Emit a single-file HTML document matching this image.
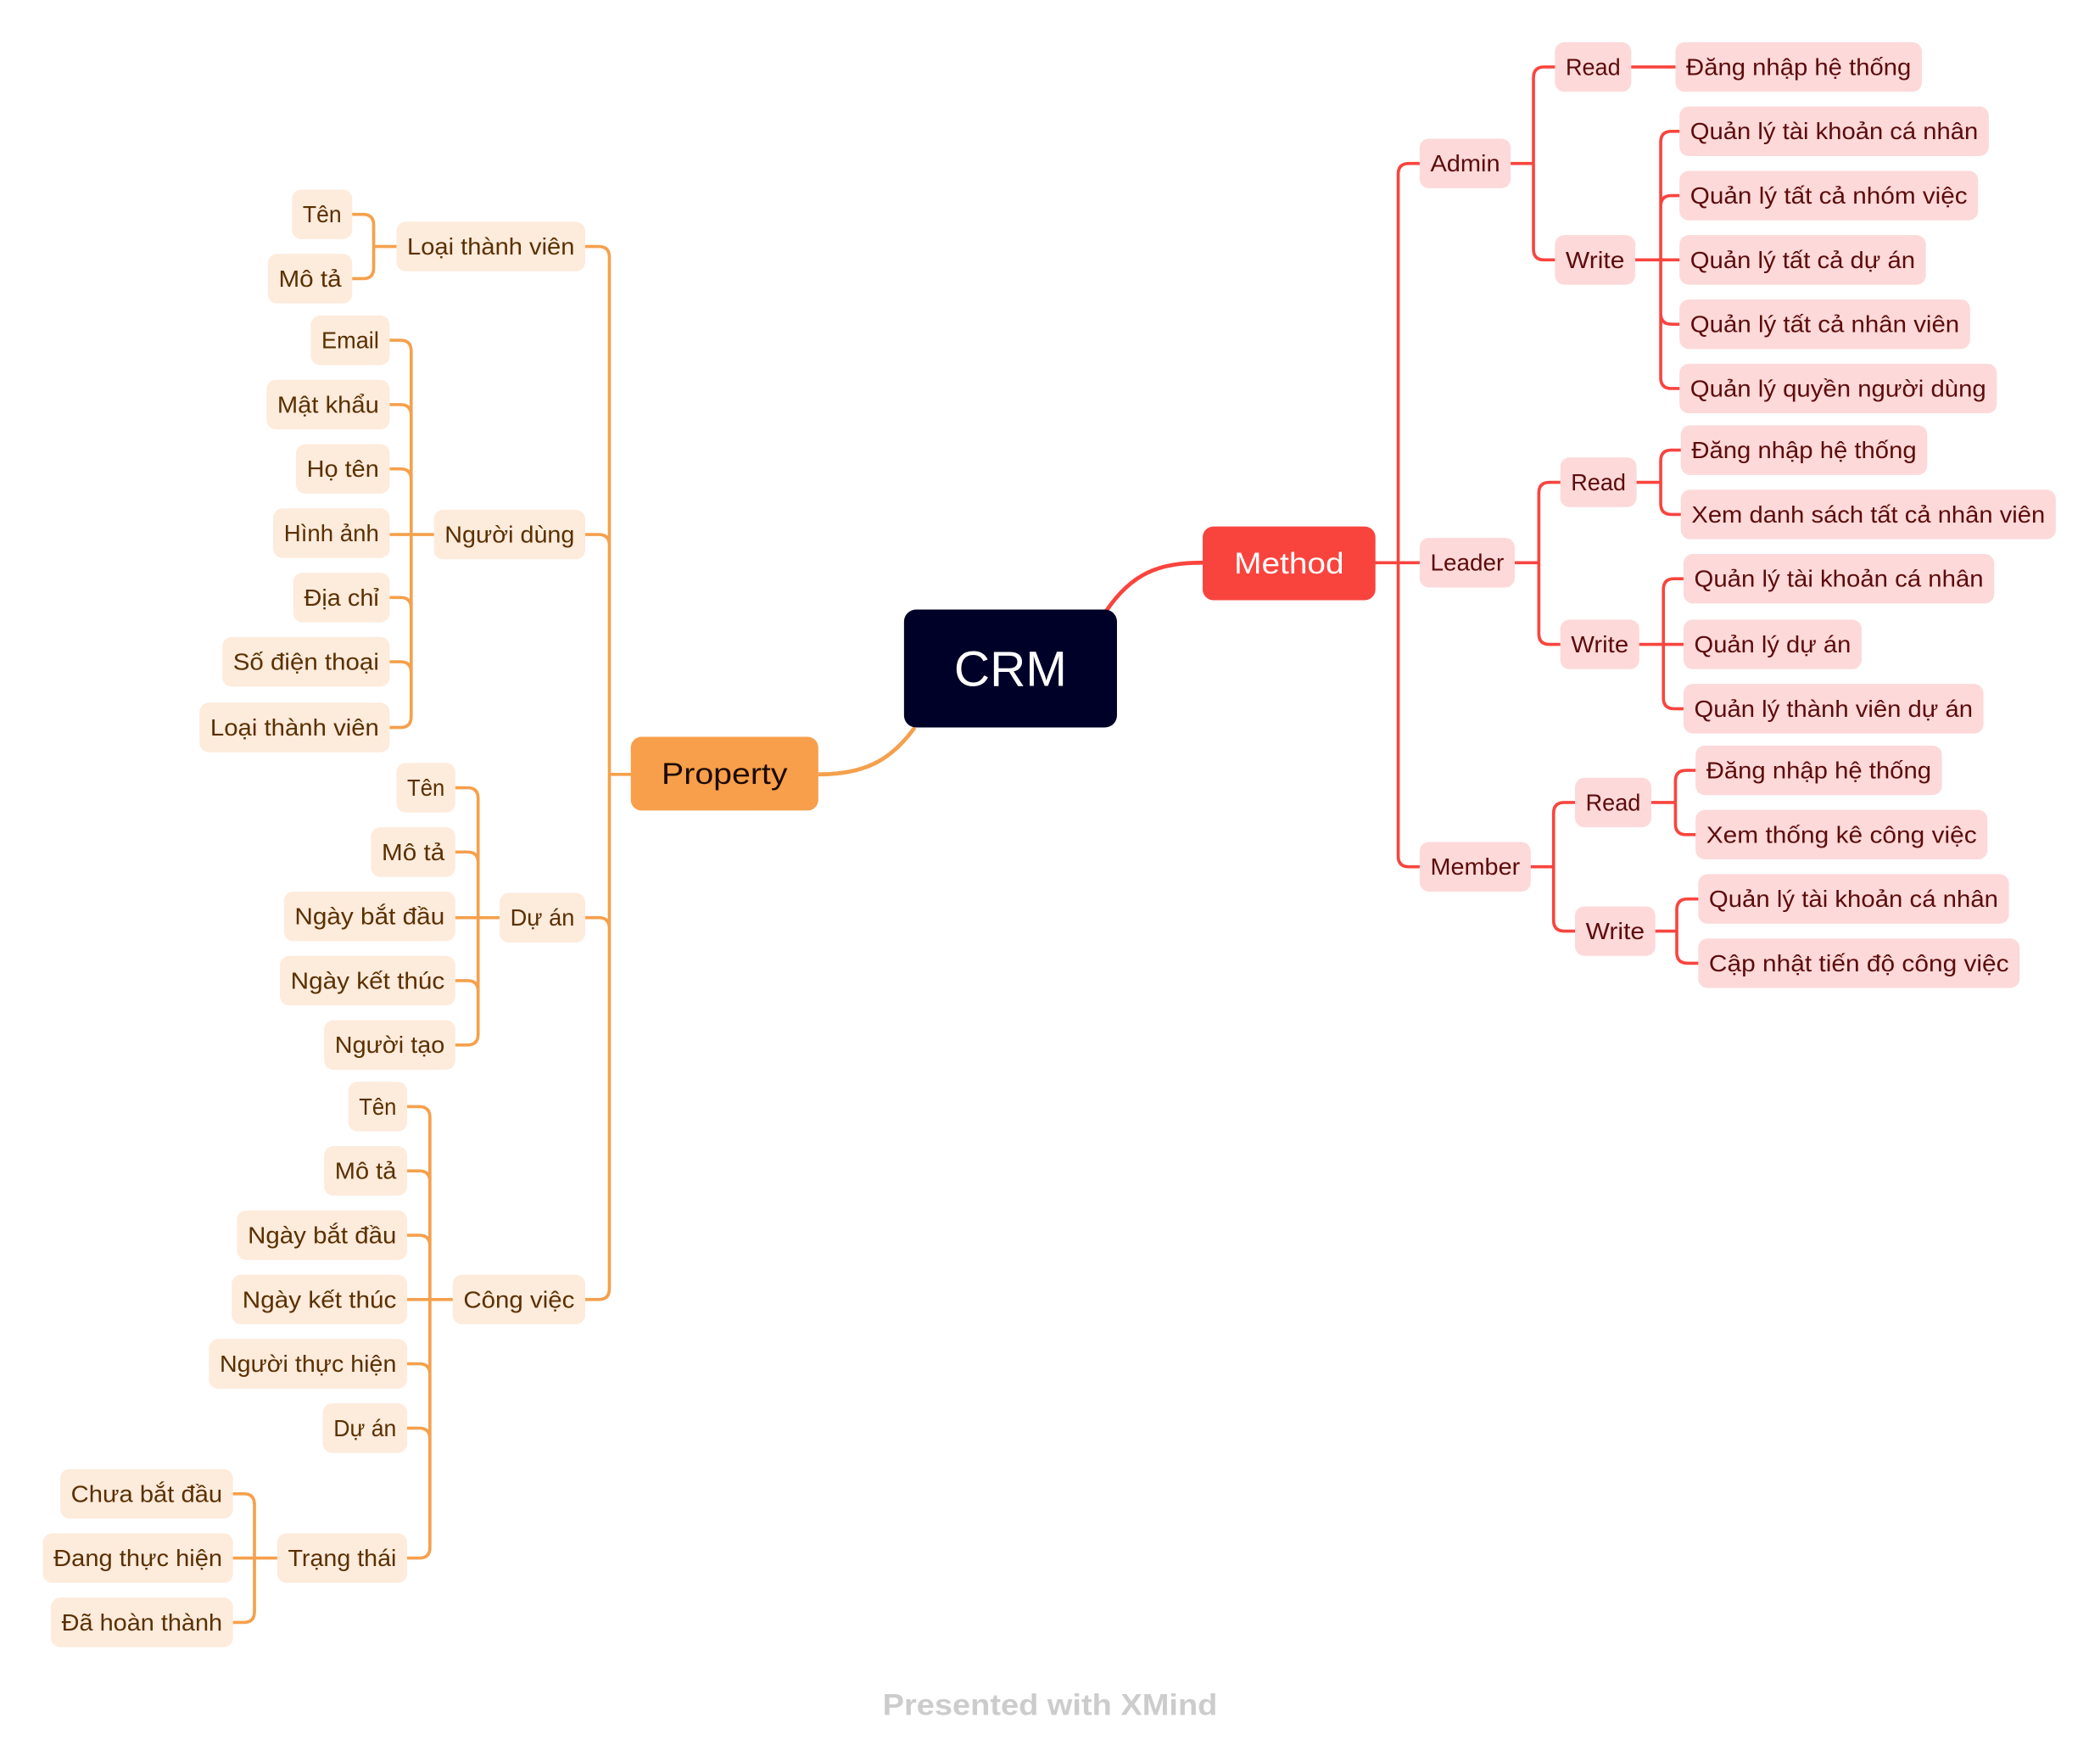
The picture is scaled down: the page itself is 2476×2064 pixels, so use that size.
<!DOCTYPE html>
<html><head><meta charset="utf-8"><style>
html,body{margin:0;padding:0;background:#fff;}
svg{display:block;}
text{font-family:"Liberation Sans",sans-serif;}
.r rect{fill:#fdd9d9;} .r text{fill:#5c0b0b;font-size:17.5px;}
.o rect{fill:#fdebdc;} .o text{fill:#5a3000;font-size:17.5px;}
.lr{stroke:#f9443e;stroke-width:2.3;fill:none;stroke-linecap:round;}
.lo{stroke:#f5a04c;stroke-width:2.3;fill:none;stroke-linecap:round;}
</style></head><body>
<svg width="2476" height="2064" viewBox="0 0 1568 1307" preserveAspectRatio="none" xmlns="http://www.w3.org/2000/svg">
<path d="M826,456 C845,428 865,420 898,420" stroke="#f9443e" stroke-width="3" fill="none"/>
<path d="M683,543 C665,568 645,578 611,578" stroke="#f5a04c" stroke-width="3" fill="none"/>
<g class="lr">
<path d="M1027,420 H1060 M1060,122 H1052 Q1044,122 1044,130 V639 Q1044,647 1052,647 H1060"/>
<path d="M1128,122 H1145 M1161,50 H1153 Q1145,50 1145,58 V186 Q1145,194 1153,194 H1161"/>
<path d="M1218,50 H1251"/>
<path d="M1221,194 H1254 M1254,98 H1248 Q1240,98 1240,106 V282 Q1240,290 1248,290 H1254 M1254,146 H1248 Q1240,146 1240,154 M1254,242 H1248 Q1240,242 1240,234"/>
<path d="M1131,420 H1149 M1165,360 H1157 Q1149,360 1149,368 V473 Q1149,481 1157,481 H1165"/>
<path d="M1222,360 H1240 M1255,336 H1248 Q1240,336 1240,344 V376 Q1240,384 1248,384 H1255"/>
<path d="M1224,481 H1257 M1257,432 H1250 Q1242,432 1242,440 V521 Q1242,529 1250,529 H1257"/>
<path d="M1143,647 H1160 M1176,599 H1168 Q1160,599 1160,607 V687 Q1160,695 1168,695 H1176"/>
<path d="M1233,599 H1251 M1266,575 H1259 Q1251,575 1251,583 V615 Q1251,623 1259,623 H1266"/>
<path d="M1236,695 H1252 M1268,671 H1260 Q1252,671 1252,679 V711 Q1252,719 1260,719 H1268"/>
</g>
<g class="lo">
<path d="M471,578 H455 M437,184 H447 Q455,184 455,192 V962 Q455,970 447,970 H437 M437,399 H447 Q455,399 455,407 M437,685 H447 Q455,685 455,693"/>
<path d="M296,184 H279 M263,160 H271 Q279,160 279,168 V200 Q279,208 271,208 H263"/>
<path d="M324,399 H291 M291,254 H299 Q307,254 307,262 V535 Q307,543 299,543 H291 M291,302 H299 Q307,302 307,310 M291,350 H299 Q307,350 307,358 M291,446 H299 Q307,446 307,454 M291,494 H299 Q307,494 307,502"/>
<path d="M373,685 H340 M340,588 H349 Q357,588 357,596 V772 Q357,780 349,780 H340 M340,636 H349 Q357,636 357,644 M340,732 H349 Q357,732 357,740"/>
<path d="M338,970 H304 M304,826 H313 Q321,826 321,834 V1155 Q321,1163 313,1163 H304 M304,874 H313 Q321,874 321,882 M304,922 H313 Q321,922 321,930 M304,1018 H313 Q321,1018 321,1026 M304,1066 H313 Q321,1066 321,1074"/>
<path d="M207,1163 H174 M174,1115 H182 Q190,1115 190,1123 V1203 Q190,1211 182,1211 H174"/>
</g>
<rect x="675" y="455" width="159" height="88" rx="9" fill="#000128"/>
<text x="754.5" y="512" text-anchor="middle" fill="#fff" font-size="37">CRM</text>
<rect x="898" y="393" width="129" height="55" rx="8" fill="#f9443e"/>
<text x="962.5" y="428" text-anchor="middle" fill="#fff" font-size="22" textLength="82" lengthAdjust="spacingAndGlyphs">Method</text>
<rect x="471" y="550" width="140" height="55" rx="8" fill="#f79f4a"/>
<text x="541" y="585" text-anchor="middle" fill="#1a0800" font-size="22" textLength="94" lengthAdjust="spacingAndGlyphs">Property</text>
<g class="r">
<rect x="1060" y="103.5" width="68" height="37" rx="7"/><text x="1094" y="128" text-anchor="middle" textLength="52" lengthAdjust="spacingAndGlyphs">Admin</text>
<rect x="1060" y="401.5" width="71" height="37" rx="7"/><text x="1095.5" y="426" text-anchor="middle" textLength="55" lengthAdjust="spacingAndGlyphs">Leader</text>
<rect x="1060" y="628.5" width="83" height="37" rx="7"/><text x="1101.5" y="653" text-anchor="middle" textLength="67" lengthAdjust="spacingAndGlyphs">Member</text>
<rect x="1161" y="31.5" width="57" height="37" rx="7"/><text x="1189.5" y="56" text-anchor="middle" textLength="41" lengthAdjust="spacingAndGlyphs">Read</text>
<rect x="1161" y="175.5" width="60" height="37" rx="7"/><text x="1191" y="200" text-anchor="middle" textLength="44" lengthAdjust="spacingAndGlyphs">Write</text>
<rect x="1251" y="31.5" width="184" height="37" rx="7"/><text x="1343" y="56" text-anchor="middle" textLength="168" lengthAdjust="spacingAndGlyphs">Đăng nhập hệ thống</text>
<rect x="1254" y="79.5" width="231" height="37" rx="7"/><text x="1369.5" y="104" text-anchor="middle" textLength="215" lengthAdjust="spacingAndGlyphs">Quản lý tài khoản cá nhân</text>
<rect x="1254" y="127.5" width="223" height="37" rx="7"/><text x="1365.5" y="152" text-anchor="middle" textLength="207" lengthAdjust="spacingAndGlyphs">Quản lý tất cả nhóm việc</text>
<rect x="1254" y="175.5" width="184" height="37" rx="7"/><text x="1346" y="200" text-anchor="middle" textLength="168" lengthAdjust="spacingAndGlyphs">Quản lý tất cả dự án</text>
<rect x="1254" y="223.5" width="217" height="37" rx="7"/><text x="1362.5" y="248" text-anchor="middle" textLength="201" lengthAdjust="spacingAndGlyphs">Quản lý tất cả nhân viên</text>
<rect x="1254" y="271.5" width="237" height="37" rx="7"/><text x="1372.5" y="296" text-anchor="middle" textLength="221" lengthAdjust="spacingAndGlyphs">Quản lý quyền người dùng</text>
<rect x="1165" y="341.5" width="57" height="37" rx="7"/><text x="1193.5" y="366" text-anchor="middle" textLength="41" lengthAdjust="spacingAndGlyphs">Read</text>
<rect x="1165" y="462.5" width="59" height="37" rx="7"/><text x="1194.5" y="487" text-anchor="middle" textLength="43" lengthAdjust="spacingAndGlyphs">Write</text>
<rect x="1255" y="317.5" width="184" height="37" rx="7"/><text x="1347" y="342" text-anchor="middle" textLength="168" lengthAdjust="spacingAndGlyphs">Đăng nhập hệ thống</text>
<rect x="1255" y="365.5" width="280" height="37" rx="7"/><text x="1395" y="390" text-anchor="middle" textLength="264" lengthAdjust="spacingAndGlyphs">Xem danh sách tất cả nhân viên</text>
<rect x="1257" y="413.5" width="232" height="37" rx="7"/><text x="1373" y="438" text-anchor="middle" textLength="216" lengthAdjust="spacingAndGlyphs">Quản lý tài khoản cá nhân</text>
<rect x="1257" y="462.5" width="133" height="37" rx="7"/><text x="1323.5" y="487" text-anchor="middle" textLength="117" lengthAdjust="spacingAndGlyphs">Quản lý dự án</text>
<rect x="1257" y="510.5" width="224" height="37" rx="7"/><text x="1369" y="535" text-anchor="middle" textLength="208" lengthAdjust="spacingAndGlyphs">Quản lý thành viên dự án</text>
<rect x="1176" y="580.5" width="57" height="37" rx="7"/><text x="1204.5" y="605" text-anchor="middle" textLength="41" lengthAdjust="spacingAndGlyphs">Read</text>
<rect x="1176" y="676.5" width="60" height="37" rx="7"/><text x="1206" y="701" text-anchor="middle" textLength="44" lengthAdjust="spacingAndGlyphs">Write</text>
<rect x="1266" y="556.5" width="184" height="37" rx="7"/><text x="1358" y="581" text-anchor="middle" textLength="168" lengthAdjust="spacingAndGlyphs">Đăng nhập hệ thống</text>
<rect x="1266" y="604.5" width="218" height="37" rx="7"/><text x="1375" y="629" text-anchor="middle" textLength="202" lengthAdjust="spacingAndGlyphs">Xem thống kê công việc</text>
<rect x="1268" y="652.5" width="232" height="37" rx="7"/><text x="1384" y="677" text-anchor="middle" textLength="216" lengthAdjust="spacingAndGlyphs">Quản lý tài khoản cá nhân</text>
<rect x="1268" y="700.5" width="240" height="37" rx="7"/><text x="1388" y="725" text-anchor="middle" textLength="224" lengthAdjust="spacingAndGlyphs">Cập nhật tiến độ công việc</text>
</g>
<g class="o">
<rect x="296" y="165.5" width="141" height="37" rx="7"/><text x="366.5" y="190" text-anchor="middle" textLength="125" lengthAdjust="spacingAndGlyphs">Loại thành viên</text>
<rect x="324" y="380.5" width="113" height="37" rx="7"/><text x="380.5" y="405" text-anchor="middle" textLength="97" lengthAdjust="spacingAndGlyphs">Người dùng</text>
<rect x="373" y="666.5" width="64" height="37" rx="7"/><text x="405" y="691" text-anchor="middle" textLength="48" lengthAdjust="spacingAndGlyphs">Dự án</text>
<rect x="338" y="951.5" width="99" height="37" rx="7"/><text x="387.5" y="976" text-anchor="middle" textLength="83" lengthAdjust="spacingAndGlyphs">Công việc</text>
<rect x="218" y="141.5" width="45" height="37" rx="7"/><text x="240.5" y="166" text-anchor="middle" textLength="29" lengthAdjust="spacingAndGlyphs">Tên</text>
<rect x="200" y="189.5" width="63" height="37" rx="7"/><text x="231.5" y="214" text-anchor="middle" textLength="47" lengthAdjust="spacingAndGlyphs">Mô tả</text>
<rect x="232" y="235.5" width="59" height="37" rx="7"/><text x="261.5" y="260" text-anchor="middle" textLength="43" lengthAdjust="spacingAndGlyphs">Email</text>
<rect x="199" y="283.5" width="92" height="37" rx="7"/><text x="245" y="308" text-anchor="middle" textLength="76" lengthAdjust="spacingAndGlyphs">Mật khẩu</text>
<rect x="221" y="331.5" width="70" height="37" rx="7"/><text x="256" y="356" text-anchor="middle" textLength="54" lengthAdjust="spacingAndGlyphs">Họ tên</text>
<rect x="204" y="379.5" width="87" height="37" rx="7"/><text x="247.5" y="404" text-anchor="middle" textLength="71" lengthAdjust="spacingAndGlyphs">Hình ảnh</text>
<rect x="219" y="427.5" width="72" height="37" rx="7"/><text x="255" y="452" text-anchor="middle" textLength="56" lengthAdjust="spacingAndGlyphs">Địa chỉ</text>
<rect x="166" y="475.5" width="125" height="37" rx="7"/><text x="228.5" y="500" text-anchor="middle" textLength="109" lengthAdjust="spacingAndGlyphs">Số điện thoại</text>
<rect x="149" y="524.5" width="142" height="37" rx="7"/><text x="220" y="549" text-anchor="middle" textLength="126" lengthAdjust="spacingAndGlyphs">Loại thành viên</text>
<rect x="296" y="569.5" width="44" height="37" rx="7"/><text x="318" y="594" text-anchor="middle" textLength="28" lengthAdjust="spacingAndGlyphs">Tên</text>
<rect x="277" y="617.5" width="63" height="37" rx="7"/><text x="308.5" y="642" text-anchor="middle" textLength="47" lengthAdjust="spacingAndGlyphs">Mô tả</text>
<rect x="212" y="665.5" width="128" height="37" rx="7"/><text x="276" y="690" text-anchor="middle" textLength="112" lengthAdjust="spacingAndGlyphs">Ngày bắt đầu</text>
<rect x="209" y="713.5" width="131" height="37" rx="7"/><text x="274.5" y="738" text-anchor="middle" textLength="115" lengthAdjust="spacingAndGlyphs">Ngày kết thúc</text>
<rect x="242" y="761.5" width="98" height="37" rx="7"/><text x="291" y="786" text-anchor="middle" textLength="82" lengthAdjust="spacingAndGlyphs">Người tạo</text>
<rect x="260" y="807.5" width="44" height="37" rx="7"/><text x="282" y="832" text-anchor="middle" textLength="28" lengthAdjust="spacingAndGlyphs">Tên</text>
<rect x="242" y="855.5" width="62" height="37" rx="7"/><text x="273" y="880" text-anchor="middle" textLength="46" lengthAdjust="spacingAndGlyphs">Mô tả</text>
<rect x="177" y="903.5" width="127" height="37" rx="7"/><text x="240.5" y="928" text-anchor="middle" textLength="111" lengthAdjust="spacingAndGlyphs">Ngày bắt đầu</text>
<rect x="173" y="951.5" width="131" height="37" rx="7"/><text x="238.5" y="976" text-anchor="middle" textLength="115" lengthAdjust="spacingAndGlyphs">Ngày kết thúc</text>
<rect x="156" y="999.5" width="148" height="37" rx="7"/><text x="230" y="1024" text-anchor="middle" textLength="132" lengthAdjust="spacingAndGlyphs">Người thực hiện</text>
<rect x="241" y="1047.5" width="63" height="37" rx="7"/><text x="272.5" y="1072" text-anchor="middle" textLength="47" lengthAdjust="spacingAndGlyphs">Dự án</text>
<rect x="207" y="1144.5" width="97" height="37" rx="7"/><text x="255.5" y="1169" text-anchor="middle" textLength="81" lengthAdjust="spacingAndGlyphs">Trạng thái</text>
<rect x="45" y="1096.5" width="129" height="37" rx="7"/><text x="109.5" y="1121" text-anchor="middle" textLength="113" lengthAdjust="spacingAndGlyphs">Chưa bắt đầu</text>
<rect x="32" y="1144.5" width="142" height="37" rx="7"/><text x="103" y="1169" text-anchor="middle" textLength="126" lengthAdjust="spacingAndGlyphs">Đang thực hiện</text>
<rect x="38" y="1192.5" width="136" height="37" rx="7"/><text x="106" y="1217" text-anchor="middle" textLength="120" lengthAdjust="spacingAndGlyphs">Đã hoàn thành</text>
</g>
<text x="784" y="1280" text-anchor="middle" fill="#cccccc" font-size="22" font-weight="bold" textLength="250" lengthAdjust="spacingAndGlyphs">Presented with XMind</text>
</svg>
</body></html>
